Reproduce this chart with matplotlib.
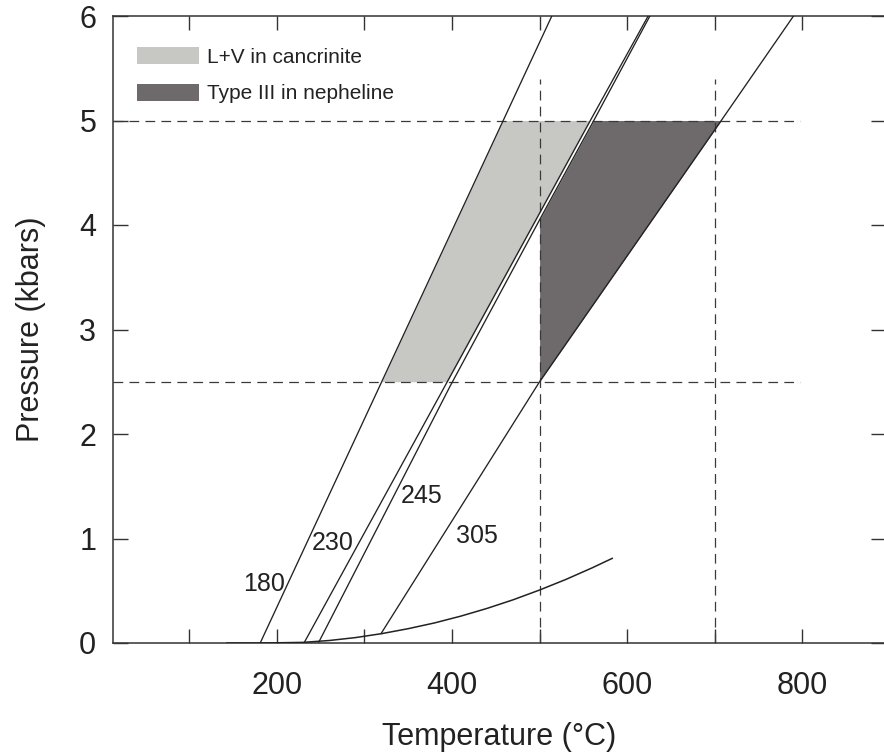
import numpy as np
import matplotlib
matplotlib.use("Agg")
import matplotlib.pyplot as plt
from matplotlib.patches import Patch

plt.rcParams['font.family'] = ['Liberation Sans', 'DejaVu Sans']
plt.rcParams['lines.scale_dashes'] = False

# isochores (T in C, P in kbar)
iso_labels = ["180", "230", "245", "305"]
t_180 = [181, 514]
p_180 = [0, 6]
t_230 = [231, 392, 556, 624]
p_230 = [0, 2.46, 4.97, 6]
t_245 = [248, 398, 502, 560, 626]
p_245 = [0.01, 2.46, 4.08, 4.97, 6]
t_305 = [319, 500, 705, 790]
p_305 = [0.09, 2.5, 4.97, 6]
label_t = [185, 264, 365, 428]
label_p = [0.565, 0.954, 1.407, 1.024]

# boundary curve
curve_t = [143, 180, 200, 230, 260, 290, 320, 350, 380, 410, 440, 470, 500, 530, 560, 583]
curve_p = [0, 0, 0.002, 0.006, 0.024, 0.052, 0.09, 0.137, 0.192, 0.257, 0.331,
           0.414, 0.507, 0.608, 0.719, 0.81]

# P-T limits of the trapping conditions
p_low, p_high = 2.5, 5.0
t_low, t_high = 500, 700

light = '#c7c8c4'
dark = '#6e6a6b'
ink = '#222222'

fig = plt.figure(figsize=(8.84, 7.56), dpi=100)
ax = fig.add_axes([113/884, 113/756, 773/884, 627/756])

pp = np.linspace(p_low, p_high, 400)
ax.fill_betweenx(pp, np.interp(pp, p_180, t_180), np.interp(pp, p_230, t_230),
                 color=light, lw=0, zorder=1)
left = np.maximum(np.interp(pp, p_245, t_245), t_low)
right = np.interp(pp, p_305, t_305)
ax.fill_betweenx(pp, left, right, where=right >= left, color=dark, lw=0, zorder=1)

dash = (0, (7, 4.5))
for p in [p_low, p_high]:
    ax.plot([13, 797], [p, p], color='#3a3a3a', lw=0.9, ls=dash, zorder=2)
for t in [t_low, t_high]:
    ax.plot([t, t], [0, 5.4], color='#3a3a3a', lw=0.9, ls=dash, zorder=2)

for tt, pz in [(t_180, p_180), (t_230, p_230), (t_245, p_245), (t_305, p_305)]:
    ax.plot(tt, pz, color=ink, lw=0.95, zorder=3)
ax.plot(curve_t, curve_p, color=ink, lw=1.1, zorder=3)

for lab, x, y in zip(iso_labels, label_t, label_p):
    ax.text(x, y, lab, fontsize=18, color=ink, ha='center', va='center')

ax.set_xlim(12.9, 895.6)
ax.set_ylim(0, 6)
ax.set_xticks(np.arange(100, 900, 100))
ax.set_xticklabels(["" if v % 200 else str(v) for v in range(100, 900, 100)])
ax.set_yticks(range(0, 7))
ax.tick_params(axis='x', direction='in', length=10, width=1.0, color='#333333',
               top=True, labelsize=22, pad=20, labelcolor=ink)
ax.tick_params(axis='y', direction='in', length=10.5, width=1.0, color='#333333',
               right=True, labelsize=22, pad=12, labelcolor=ink)
for s in ax.spines.values():
    s.set_linewidth(1.1)
    s.set_color('#333333')

ax.set_xlabel("Temperature (°C)", fontsize=22, color=ink, labelpad=15)
ax.set_ylabel("Pressure (kbars)", fontsize=22, color=ink, labelpad=24)

handles = [Patch(facecolor=light, edgecolor='none', label="L+V in cancrinite"),
           Patch(facecolor=dark, edgecolor='none', label="Type III in nepheline")]
ax.legend(handles=handles, loc='upper left', bbox_to_anchor=(0.031, 0.95),
          frameon=False, fontsize=15, handlelength=3.0, handleheight=0.87,
          handletextpad=0.35, labelspacing=0.8, borderpad=0, borderaxespad=0,
          labelcolor=ink)

fig.savefig("out.png", dpi=100)
